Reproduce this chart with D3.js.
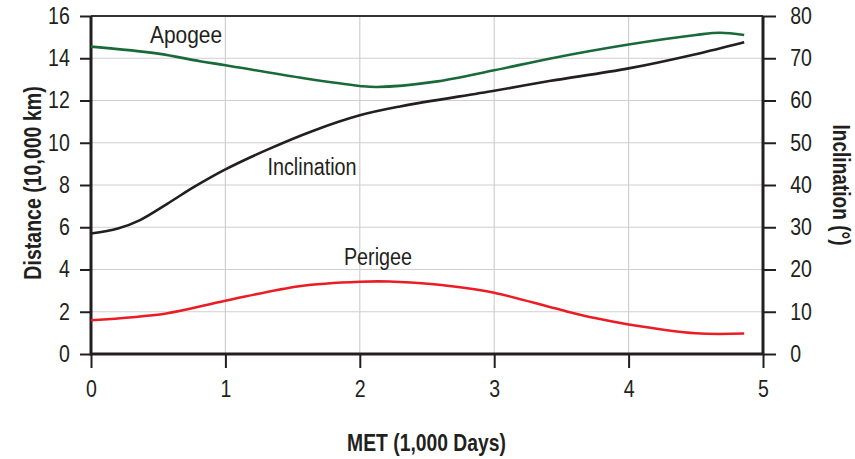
<!DOCTYPE html>
<html><head><meta charset="utf-8">
<script src="https://cdn.jsdelivr.net/npm/d3@7"></script>
<style>
body{margin:0;background:#fff;}
svg text{font-family:"Liberation Sans",Arial,sans-serif;fill:#231f20;}
</style></head><body>
<svg id="chart" width="855" height="459"></svg>
<script>
// Data (MET in 1,000 days)
const apogeeX = [0, 0.5, 0.81, 1.0, 1.55, 2.0, 2.13, 2.55, 3.0, 3.41, 4.0, 4.5, 4.68, 4.86];
const apogeeY = [14.55, 14.22, 13.86, 13.67, 13.09, 12.69, 12.64, 12.88, 13.43, 13.98, 14.65, 15.1, 15.21, 15.1];

const perigeeX = [0, 0.56, 1.0, 1.55, 2.0, 2.22, 2.55, 2.8, 3.0, 3.5, 3.75, 4.0, 4.5, 4.86];
const perigeeY = [1.6, 1.92, 2.52, 3.21, 3.42, 3.43, 3.3, 3.11, 2.9, 2.08, 1.7, 1.4, 0.98, 0.97];

const inclX = [0, 0.2, 0.365, 0.57, 0.77, 1.0, 1.3, 1.65, 2.0, 2.3, 3.0, 3.41, 4.0, 4.49, 4.86];
const inclY = [28.5, 29.7, 31.7, 35.6, 39.6, 43.7, 48.2, 52.8, 56.5, 58.6, 62.3, 64.6, 67.6, 70.9, 73.8];

const xTicks = [0, 1, 2, 3, 4, 5];
const yLeftTicks = [0, 2, 4, 6, 8, 10, 12, 14, 16];
const yRightTicks = [0, 10, 20, 30, 40, 50, 60, 70, 80];

const svg = d3.select("#chart");
const L = 91, R = 763, T = 16, B = 354;
const x = d3.scaleLinear().domain([0, 5]).range([L, R]);
const yL = d3.scaleLinear().domain([0, 16]).range([B, T]);
const yR = d3.scaleLinear().domain([0, 80]).range([B, T]);

const SX = 0.85; // condensed look

// grid
const grid = svg.append("g");
grid.selectAll("line.gx").data(xTicks.slice(1, -1)).join("line")
  .attr("x1", d => x(d)).attr("x2", d => x(d)).attr("y1", T).attr("y2", B)
  .attr("stroke", "#cfcfcf").attr("stroke-width", 1.2);
grid.selectAll("line.gy").data(yLeftTicks.slice(1, -1)).join("line")
  .attr("y1", d => yL(d)).attr("y2", d => yL(d)).attr("x1", L).attr("x2", R)
  .attr("stroke", "#cfcfcf").attr("stroke-width", 1.2);

// axes
const fs = "23px";
const ax = svg.append("g").attr("transform", `translate(0,${B})`)
  .call(d3.axisBottom(x).tickValues(xTicks).tickFormat(d3.format("d")).tickSize(14).tickPadding(13));
const ayl = svg.append("g").attr("transform", `translate(${L},0)`)
  .call(d3.axisLeft(yL).tickValues(yLeftTicks).tickSize(11).tickPadding(14));
const ayr = svg.append("g").attr("transform", `translate(${R},0)`)
  .call(d3.axisRight(yR).tickValues(yRightTicks).tickSize(13).tickPadding(19));
[ax, ayl, ayr].forEach(g => {
  g.select(".domain").remove();
  g.selectAll(".tick line").attr("stroke", "#231f20").attr("stroke-width", 2);
  g.selectAll(".tick text").style("font-size", fs).attr("fill", "#231f20")
    .attr("transform", `scale(${SX},1)`);
});

// frame
svg.append("line").attr("x1", L).attr("x2", R).attr("y1", T).attr("y2", T).attr("stroke", "#333").attr("stroke-width", 2);
svg.append("path").attr("d", `M${L},${T}V${B}H${R}V${T}`).attr("fill", "none")
  .attr("stroke", "#231f20").attr("stroke-width", 3);

// lines
const lineL = d3.line().x(d => x(d[0])).y(d => yL(d[1])).curve(d3.curveCatmullRom.alpha(0.5));
const lineR = d3.line().x(d => x(d[0])).y(d => yR(d[1])).curve(d3.curveCatmullRom.alpha(0.5));
svg.append("path").datum(d3.zip(apogeeX, apogeeY)).attr("d", lineL)
  .attr("fill", "none").attr("stroke", "#1a6a39").attr("stroke-width", 2.6);
svg.append("path").datum(d3.zip(perigeeX, perigeeY)).attr("d", lineL)
  .attr("fill", "none").attr("stroke", "#ec1c24").attr("stroke-width", 2.6);
svg.append("path").datum(d3.zip(inclX, inclY)).attr("d", lineR)
  .attr("fill", "none").attr("stroke", "#231f20").attr("stroke-width", 2.6);

// series labels
const lab = (t, px, py, s) => svg.append("text")
  .attr("transform", `translate(${px},${py}) scale(${s},1)`)
  .attr("text-anchor", "middle").style("font-size", "23px").text(t);
lab("Apogee", 186, 43, 0.91);
lab("Inclination", 312, 175, 0.86);
lab("Perigee", 378, 265, 0.86);

// axis titles
const title = (t, tr, s) => svg.append("text").attr("transform", `${tr} scale(${s},1)`)
  .attr("text-anchor", "middle").style("font-size", "23px").style("font-weight", "bold").text(t);
title("Distance (10,000 km)", "translate(41,183) rotate(-90)", 0.85);
title("Inclination (°)", "translate(833,185) rotate(90)", 0.83);
title("MET (1,000 Days)", "translate(426.5,451)", 0.84);
</script></body></html>
